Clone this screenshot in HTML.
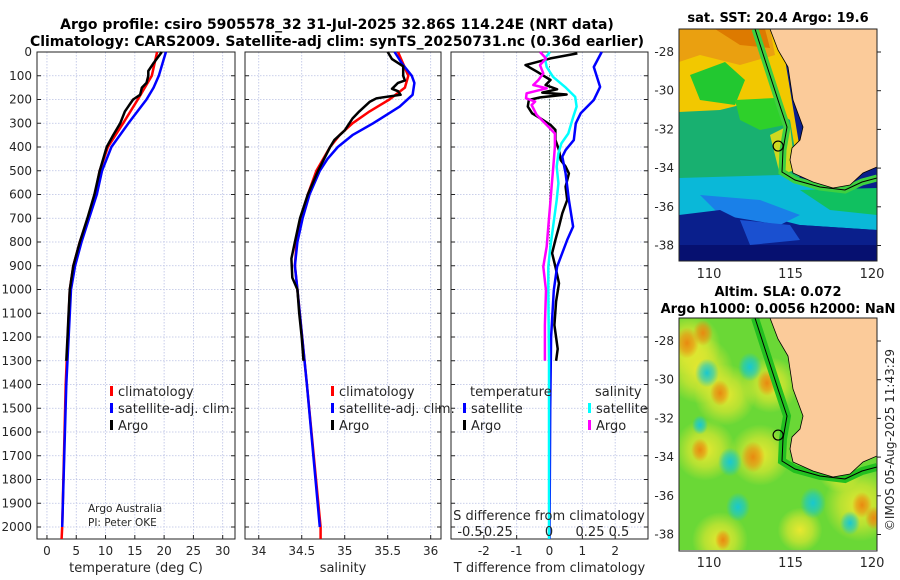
<!DOCTYPE html>
<html><head><meta charset="utf-8">
<style>
body{margin:0;background:#fff;}
svg{display:block;font-family:"DejaVu Sans","Liberation Sans",sans-serif;}
.t{font-size:12px;fill:#262626;}
.b{font-weight:bold;font-size:14px;fill:#000;}
</style></head>
<body>
<svg id="fig" width="900" height="580" viewBox="0 0 900 580" xmlns="http://www.w3.org/2000/svg">
<rect x="0" y="0" width="900" height="580" fill="#fff"/>
<text class="b" x="337" y="29" text-anchor="middle">Argo profile: csiro 5905578_32 31-Jul-2025 32.86S 114.24E (NRT data)</text>
<text class="b" x="337" y="46" text-anchor="middle">Climatology: CARS2009. Satellite-adj clim: synTS_20250731.nc (0.36d earlier)</text>
<g id="panels"></g>
<g id="maps"></g>
<text class="t" transform="translate(894,440) rotate(-90)" text-anchor="middle">©IMOS 05-Aug-2025 11:43:29</text>
</svg>
<script>
// ---------- data ----------
const depthTicks=[0,100,200,300,400,500,600,700,800,900,1000,1100,1200,1300,1400,1500,1600,1700,1800,1900,2000];
const tempTicks=[0,5,10,15,20,25,30];
const salTicks=[34,34.5,35,35.5,36];
const dtTicks=[-2,-1,0,1,2];
const dsTickLabels=["-0.5","-0.25","0","0.25","0.5"];

const climTD=[0,100,200,300,400,500,600,700,800,900,1000,1400,2000,2050];
const climT=[18.8,17.9,15.5,13.0,10.4,9.0,8.2,7.0,5.6,4.5,3.9,3.2,2.6,2.5];
const satTD=[0,100,150,200,300,400,500,600,700,800,900,1000,1400,2000];
const satT=[20.3,19.1,18.2,17.0,13.9,11.0,9.4,8.5,7.2,5.9,4.8,4.1,3.3,2.6];
const argoTD=[0,50,80,100,130,150,180,200,250,300,350,400,500,600,700,800,900,1000,1100,1200,1300];
const argoT=[19.6,18.1,17.3,17.3,17.0,16.2,15.9,14.7,13.3,12.5,11.3,10.2,9.0,8.1,6.9,5.6,4.5,3.9,3.7,3.5,3.3];

const climSD=[0,50,100,150,200,250,300,350,400,500,600,700,800,900,1000,1400,2000,2050];
const climS=[35.62,35.68,35.74,35.70,35.52,35.29,35.09,34.94,34.83,34.67,34.57,34.50,34.44,34.42,34.45,34.56,34.72,34.72];
const satSD=[0,50,100,130,180,230,300,350,400,450,500,600,700,800,900,1000,1400,2000];
const satS=[35.58,35.67,35.78,35.81,35.79,35.64,35.33,35.09,34.92,34.80,34.71,34.59,34.51,34.45,34.42,34.45,34.56,34.71];
const argoSD=[0,30,60,100,120,130,155,165,180,195,210,250,280,330,370,400,500,600,700,800,870,950,1000,1100,1200,1300];
const argoS=[35.50,35.55,35.68,35.68,35.70,35.62,35.55,35.62,35.65,35.37,35.29,35.17,35.09,35.00,34.88,34.83,34.69,34.57,34.48,34.42,34.38,34.39,34.45,34.47,34.50,34.52];

const dTsatD=[0,63,147,202,258,300,371,413,441,511,623,735,791,904,1003,1200,1500,2050];
const dTsat=[1.59,1.35,1.54,1.35,0.95,0.80,0.74,0.49,0.39,0.49,0.59,0.72,0.54,0.23,0.13,0.05,0.02,0.0];
const dTargoD=[6,27,55,83,118,139,157,171,179,191,202,230,258,279,307,328,370,413,455,482,511,567,623,679,735,791,847,904,974,1050,1150,1250,1300];
const dTargo=[0.85,0.03,-0.73,-0.38,0.03,-0.12,0.23,-0.22,0.52,-0.28,-0.63,-0.66,-0.53,-0.28,0.03,0.18,0.18,0.29,0.34,0.49,0.59,0.49,0.54,0.39,0.29,0.18,0.08,0.18,0.29,0.2,0.15,0.25,0.2];
const dSsatD=[0,27,63,105,147,189,230,272,343,385,427,483,553,623,735,834,904,1003,1300,2050];
const dSsat=[0.007,-0.03,-0.017,0.03,0.116,0.19,0.2,0.176,0.14,0.09,0.068,0.056,0.068,0.056,0.03,0.007,-0.005,-0.005,0.0,0.0];
const dSargoD=[0,27,55,90,118,139,153,174,195,209,223,265,314,343,399,483,567,651,735,819,904,1003,1150,1300];
const dSargo=[-0.065,-0.022,-0.065,-0.041,-0.077,-0.114,-0.017,-0.162,-0.167,-0.101,-0.126,-0.089,-0.005,0.043,0.043,0.031,0.019,0.007,-0.005,-0.017,-0.041,-0.022,-0.03,-0.03];

// ---------- helpers ----------
const NS="http://www.w3.org/2000/svg";
function mk(tag,attrs,parent){const e=document.createElementNS(NS,tag);for(const k in attrs)e.setAttribute(k,attrs[k]);(parent||document.getElementById('panels')).appendChild(e);return e;}
const top0=52, pxPer100=23.75, yBot=539;
function yD(d){return top0+d*pxPer100/100;}
function lin(a0,a1,p0,p1){return v=>p0+(v-a0)*(p1-p0)/(a1-a0);}

const P=[{x0:37,x1:235,sc:lin(-1.7,32.1,37,235),ticks:tempTicks,lab:"temperature (deg C)",nm:"temperature"},
         {x0:245,x1:441,sc:lin(33.84,36.12,245,441),ticks:salTicks,lab:"salinity",nm:"salinity"},
         {x0:451,x1:648,sc:lin(-3.0,3.0,451,648),ticks:dtTicks,lab:"T difference from climatology",nm:"difference"}];
const xS=lin(-0.5,0.5,480,618); // S-difference axis

P.forEach((p,i)=>{
  const g=mk('g',{});
  
  
  depthTicks.forEach(d=>{const l=mk('line',{x1:p.x0,x2:p.x1,y1:yD(d),y2:yD(d),stroke:'#b9c0e4','stroke-width':0.8,'stroke-dasharray':'1.5,1.5'},g);
    
    mk('line',{x1:p.x0,x2:p.x0+4,y1:yD(d),y2:yD(d),stroke:'#222'},g);mk('line',{x1:p.x1-4,x2:p.x1,y1:yD(d),y2:yD(d),stroke:'#222'},g);});
  p.ticks.forEach((t,j)=>{const x=p.sc(t);const l=mk('line',{x1:x,x2:x,y1:top0,y2:yBot,stroke:'#b9c0e4','stroke-width':0.8,'stroke-dasharray':'1.5,1.5'},g);
    
    mk('line',{x1:x,x2:x,y1:yBot-4,y2:yBot,stroke:'#222'},g);
    const tx=mk('text',{x:x,y:555,'text-anchor':'middle',class:'t'},g);tx.textContent=String(t);
    });
  const fr=mk('rect',{x:p.x0,y:top0,width:p.x1-p.x0,height:yBot-top0,fill:'none',stroke:'#222','stroke-width':1},g);
  
  const at=mk('text',{x:(p.x0+p.x1)/2,y:572,'text-anchor':'middle',class:'t',style:'font-size:13px'},g);at.textContent=p.lab;
  
});
depthTicks.forEach(d=>{const t=mk('text',{x:32,y:yD(d)+4,'text-anchor':'end',class:'t'});t.textContent=String(d);
  });

function line(xs,ds,sc,col,w,nm){
  const pts=xs.map((v,i)=>sc(v).toFixed(1)+','+yD(ds[i]).toFixed(1)).join(' ');
  const l=mk('polyline',{points:pts,fill:'none',stroke:col,'stroke-width':w,'stroke-linejoin':'round'});
  
}
const z=mk('line',{x1:P[2].sc(0),x2:P[2].sc(0),y1:yD(60),y2:yD(900),stroke:'#335533','stroke-width':1,'stroke-dasharray':'1,2'});


line(climT,climTD,P[0].sc,'#f00',2.5,'temp-climatology-line');
line(satT,satTD,P[0].sc,'#00f',2.5,'temp-satellite-line');
line(argoT,argoTD,P[0].sc,'#000',2.5,'temp-argo-line');
line(climS,climSD,P[1].sc,'#f00',2.5,'sal-climatology-line');
line(satS,satSD,P[1].sc,'#00f',2.5,'sal-satellite-line');
line(argoS,argoSD,P[1].sc,'#000',2.5,'sal-argo-line');
line(dTargo,dTargoD,P[2].sc,'#000',2.5,'dT-argo-line');
line(dTsat,dTsatD,P[2].sc,'#00f',2.5,'dT-satellite-line');
line(dSsat,dSsatD,xS,'#0ff',2.5,'dS-satellite-line');
line(dSargo,dSargoD,xS,'#f0f',2.5,'dS-argo-line');

function txt(x,y,s,nm,extra){const t=mk('text',Object.assign({x:x,y:y,class:'t',style:'font-size:13px'},extra||{}));t.textContent=s;return t;}
function leg(x,y,col,s,nm){const r=mk('rect',{x:x,y:y-10,width:3,height:10,fill:col});txt(x+8,y,s,nm);}
[[110,'#f00','climatology'],[110,'#00f','satellite-adj. clim.'],[110,'#000','Argo']].forEach((e,i)=>leg(e[0],396+i*17,e[1],e[2],'legend-entry'));
[[331,'#f00','climatology'],[331,'#00f','satellite-adj. clim.'],[331,'#000','Argo']].forEach((e,i)=>leg(e[0],396+i*17,e[1],e[2],'legend-entry'));
txt(470,396,'temperature','legend-heading');txt(595,396,'salinity','legend-heading');
leg(463,413,'#00f','satellite','legend-entry');leg(463,430,'#000','Argo','legend-entry');
leg(588,413,'#0ff','satellite','legend-entry');leg(588,430,'#f0f','Argo','legend-entry');
txt(88,512,'Argo Australia','credit-text',{style:'font-size:10.5px'});
txt(88,526,'PI: Peter OKE','credit-text',{style:'font-size:10.5px'});
txt(549,520,'S difference from climatology','s-axis-title',{'text-anchor':'middle'});
sPos=[-0.5,-0.25,0,0.25,0.5];
sPos.forEach((v,i)=>txt([470,496,549,590,619][i],536,dsTickLabels[i],'s-tick-label',{'text-anchor':'middle'}));

// ---------- maps ----------
const M=document.getElementById('maps');
function mm(tag,a,p){return mk(tag,a,p||M);}
const lonTicks=[110,115,120], latTicks=[-28,-30,-32,-34,-36,-38];
function lonX(l){return 709+(l-110)*16.3;}
function latY(l,off){return 52+off+(-28-l)*19.35;}
const argoLon=114.24, argoLat=-32.86;
function land(off){return [[770,29],[778,50],[788,67],[793,100],[803,127],[800,140],[792,148],[790,160],[793,173],[813,182],[833,188],[850,185],[863,173],[877,167],[877,29]].map(p=>p[0]+','+(p[1]+off)).join(' ');}
function coastLine(off){return [[755,29],[765,60],[778,100],[787,127],[783,150],[782,172],[795,180],[820,187],[845,190],[862,182],[877,178]].map(p=>p[0]+','+(p[1]+off)).join(' ');}

function mapFrame(off,id){
  const g=mm('g',{});
  const cp=mm('clipPath',{id:'cp'+off},g);mm('rect',{x:679,y:29+off,width:198,height:232},cp);
  const inner=mm('g',{'clip-path':'url(#cp'+off+')'},g);
  return {g,inner};
}
let A=mapFrame(0,'sst-map');
let I=A.inner;
mm('rect',{x:679,y:29,width:198,height:232,fill:'#0a1f8c'},I);
mm('polygon',{points:'679,29 780,29 800,150 679,150',fill:'#f2c800'},I);
mm('polygon',{points:'679,29 770,29 775,55 740,65 700,55 679,62',fill:'#eaa010'},I);
mm('polygon',{points:'715,29 765,29 770,48 740,45',fill:'#dd7a00'},I);
mm('polygon',{points:'690,75 725,62 745,80 735,105 700,100',fill:'#22c830'},I);
mm('polygon',{points:'679,112 720,110 760,100 790,120 800,180 779,190 679,185',fill:'#18b070'},I);
mm('polygon',{points:'735,100 775,98 785,125 760,130 740,120',fill:'#2ed02a'},I);
mm('polygon',{points:'770,135 790,125 795,170 780,175',fill:'#d0d820'},I);
mm('polygon',{points:'679,178 780,175 877,195 877,230 800,225 760,215 679,215',fill:'#0ab8d8'},I);
mm('polygon',{points:'700,195 760,200 800,215 780,225 720,215',fill:'#1a80e8'},I);
mm('polygon',{points:'800,190 877,188 877,215 830,210',fill:'#10c060'},I);
mm('polygon',{points:'679,215 720,210 760,230 800,225 877,230 877,261 679,261',fill:'#0a1f8c'},I);
mm('polygon',{points:'740,220 790,225 800,240 750,245',fill:'#1a50d0'},I);
mm('rect',{x:679,y:245,width:198,height:16,fill:'#061070'},I);
mm('polyline',{points:coastLine(0),fill:'none',stroke:'#3dd040','stroke-width':7},I);
const l1=mm('polygon',{points:land(0),fill:'#fbcb9a'},I);
mm('polyline',{points:coastLine(0),fill:'none',stroke:'#000','stroke-width':1},I);
mm('polyline',{points:land(0).split(' ').slice(0,-1).join(' '),fill:'none',stroke:'#000','stroke-width':0.8},I);
const c1=mm('circle',{cx:lonX(argoLon),cy:latY(argoLat,0),r:5,fill:'none',stroke:'#000','stroke-width':1.2},A.g);

mm('rect',{x:679,y:29,width:198,height:232,fill:'none',stroke:'#222'},A.g);

A=mapFrame(289,'sla-map');I=A.inner;
const defs=mm('defs',{},A.g);
[['gc','#18c8d0'],['go','#e88a10'],['gy','#e8e830']].forEach(c=>{const r=mm('radialGradient',{id:c[0]},defs);mm('stop',{offset:'0','stop-color':c[1],'stop-opacity':1},r);mm('stop',{offset:'0.55','stop-color':c[1],'stop-opacity':0.6},r);mm('stop',{offset:'1','stop-color':c[1],'stop-opacity':0},r);});
mm('rect',{x:679,y:318,width:198,height:233,fill:'#6ad836'},I);
[[700,370,24,'gy'],[725,395,22,'gy'],[705,450,22,'gy'],[760,455,22,'gy'],[860,505,26,'gy'],[720,540,20,'gy'],[690,345,22,'gy'],[770,385,20,'gy'],[840,470,16,'gy'],[800,530,16,'gy']].forEach(b=>mm('ellipse',{cx:b[0],cy:b[1],rx:b[2]*1.4,ry:b[2]*1.4,fill:'url(#'+b[3]+')'},I));
[[687,343,12,'go'],[703,333,10,'go'],[720,393,10,'go'],[767,383,10,'go'],[753,457,12,'go'],[700,450,9,'go'],[862,505,10,'go'],[874,518,9,'go'],[723,540,8,'go']].forEach(b=>mm('ellipse',{cx:b[0],cy:b[1],rx:b[2],ry:b[2]*1.3,fill:'url(#'+b[3]+')'},I));
[[707,373,12],[750,367,12],[730,462,12],[738,507,12],[813,503,13],[850,523,10],[700,425,8]].forEach(b=>mm('ellipse',{cx:b[0],cy:b[1],rx:b[2],ry:b[2]*1.2,fill:'url(#gc)'},I));
mm('polyline',{points:coastLine(289),fill:'none',stroke:'#22c020','stroke-width':8},I);
mm('polygon',{points:land(289),fill:'#fbcb9a'},I);
mm('polyline',{points:coastLine(289),fill:'none',stroke:'#000','stroke-width':1},I);
mm('polyline',{points:land(289).split(' ').slice(0,-1).join(' '),fill:'none',stroke:'#000','stroke-width':0.8},I);
const c2=mm('circle',{cx:lonX(argoLon),cy:latY(argoLat,289),r:5,fill:'none',stroke:'#000','stroke-width':1.2},A.g);

mm('rect',{x:679,y:318,width:198,height:233,fill:'none',stroke:'#222'},A.g);

[0,289].forEach(off=>{
  latTicks.forEach(l=>{const t=mm('text',{x:674,y:latY(l,off)+4,'text-anchor':'end',class:'t'});t.textContent=String(l);
    
    mm('line',{x1:877,x2:881,y1:latY(l,off),y2:latY(l,off),stroke:'#222'});});
  lonTicks.forEach(l=>{const t=mm('text',{x:lonX(l),y:(off?567:278),'text-anchor':'middle',class:'t',style:'font-size:13px'});t.textContent=String(l);
    });
});
function mt(x,y,s,nm){const t=mm('text',{x:x,y:y,'text-anchor':'middle',class:'b',style:'font-size:13px'});t.textContent=s;}
mt(778,22,'sat. SST: 20.4 Argo: 19.6','sst-map-title');
mt(778,296,'Altim. SLA: 0.072','sla-map-title');
mt(778,313,'Argo h1000: 0.0056 h2000: NaN','sla-map-subtitle');
</script>
</body></html>
